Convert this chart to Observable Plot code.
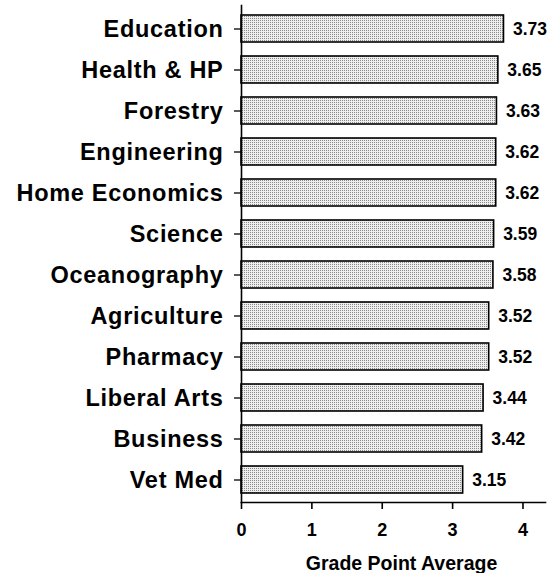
<!DOCTYPE html>
<html>
<head>
<meta charset="utf-8">
<script src="https://cdn.jsdelivr.net/npm/d3@7"></script>
<script src="https://cdn.jsdelivr.net/npm/@observablehq/plot@0.6"></script>
<style>
  html, body { margin: 0; padding: 0; background: #fff; }
</style>
</head>
<body>
<div id="chart"></div>
<script>
const colleges = ["Education", "Health & HP", "Forestry", "Engineering", "Home Economics", "Science", "Oceanography", "Agriculture", "Pharmacy", "Liberal Arts", "Business", "Vet Med"];
const gpa = [3.73, 3.65, 3.63, 3.62, 3.62, 3.59, 3.58, 3.52, 3.52, 3.44, 3.42, 3.15];
const xTicks = [0, 1, 2, 3, 4];
const xLabel = "Grade Point Average";

const data = colleges.map((c, i) => ({college: c, gpa: gpa[i]}));

const chart = Plot.plot({
  width: 550,
  height: 573,
  marginTop: 5,
  marginBottom: 71,
  marginLeft: 241,
  marginRight: 5,
  style: {fontFamily: "'Liberation Sans', Arial, sans-serif", fontWeight: "bold", color: "#000", background: "#fff"},
  x: {domain: [0, 4.32], axis: null},
  y: {domain: colleges, paddingInner: 0.35, paddingOuter: 0.15, axis: null},
  marks: [
    Plot.barX(data, {x: "gpa", y: "college", fill: "url(#stipple)", stroke: "#000", strokeWidth: 1.6}),
    Plot.text(data, {x: "gpa", y: "college", text: d => d.gpa.toFixed(2), textAnchor: "start", dx: 9, fontSize: 17.5, fill: "#000"}),
    Plot.axisY({tickSize: 7, tickPadding: 11, fontSize: 23.5, label: null, strokeWidth: 1.3}),
    Plot.axisX({ticks: xTicks, tickFormat: d => String(d), tickSize: 7, tickPadding: 14, fontSize: 18, label: null, strokeWidth: 1.6}),
    Plot.frame({anchor: "left", strokeWidth: 1.6}),
    Plot.frame({anchor: "bottom", strokeWidth: 1.6}),
    Plot.text([xLabel], {frameAnchor: "bottom", lineAnchor: "middle", dy: 61, dx: 8, fontSize: 19.5, fill: "#000", textAnchor: "middle"})
  ]
});

const svg = d3.select(chart);
svg.selectAll('g[aria-label="y-axis tick label"]').attr("letter-spacing", "0.7px");
const defs = svg.insert("defs", ":first-child");
const pat = defs.append("pattern")
  .attr("id", "stipple")
  .attr("patternUnits", "userSpaceOnUse")
  .attr("width", 2)
  .attr("height", 2);
pat.append("rect").attr("width", 2).attr("height", 2).attr("fill", "#eeeeee");
pat.append("rect").attr("width", 1).attr("height", 1).attr("fill", "#8a8a8a");

document.getElementById("chart").appendChild(chart);
</script>
</body>
</html>
